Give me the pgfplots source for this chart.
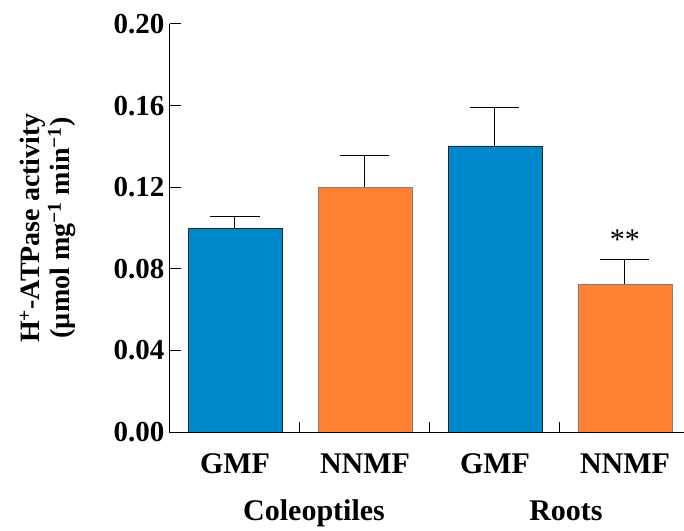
\documentclass[border=0pt]{standalone}
\usepackage{pgfplots}
\pgfplotsset{compat=1.18}
\usepackage{fontspec}
\setmainfont{Liberation Serif}
\definecolor{barblue}{RGB}{0,136,204}
\definecolor{barorange}{RGB}{255,128,51}
\begin{document}
\begin{tikzpicture}
\begin{axis}[
  scale only axis,
  width=514pt, height=408pt,
  xmin=-0.5, xmax=3.454,
  ymin=0, ymax=0.20,
  axis line style={draw=none},
  xtick pos=bottom, ytick pos=left,
  ytick={0,0.04,0.08,0.12,0.16,0.20},
  yticklabel style={/pgf/number format/fixed, /pgf/number format/fixed zerofill, /pgf/number format/precision=2, xshift=-2pt},
  /pgf/number format/assume math mode=true,
  yticklabel style={font=\bfseries\fontsize{29}{29}\selectfont},
  tick align=inside,
  major tick length=11pt,
  ytick style={black, line width=1pt},
  xtick={0,1,2,3},
  xticklabels={GMF,NNMF,GMF,NNMF},
  xtick style={draw=none},
  xticklabel style={font=\bfseries\fontsize{30}{30}\selectfont, yshift=-7pt},
  ylabel={H\textsuperscript{+}-ATPase activity\\(µmol mg\textsuperscript{−1} min\textsuperscript{−1})},
  ylabel style={at={(axis description cs:-0.2374,0.5)}, anchor=center, align=center, font=\bfseries\fontsize{28}{30}\selectfont},
  clip=false,
  ybar, bar width=0.723,
  error bars/y dir=plus, error bars/y explicit,
  error bars/error bar style={black, line width=1pt},
  error bars/error mark options={black, line width=1pt, mark size=24.5pt, rotate=90},
]
\addplot[ybar, bar shift=0pt, fill=barblue, draw=black!85, line width=0.8pt]
  coordinates {(0,0.100) +- (0,0.0054) (2,0.1402) +- (0,0.0191)};
\addplot[ybar, bar shift=0pt, fill=barorange, draw=gray, line width=0.8pt]
  coordinates {(1,0.120) +- (0,0.0153) (3,0.0725) +- (0,0.0123)};
\draw[black, line width=1pt] (rel axis cs:0,1) -- (rel axis cs:0,0) -- (rel axis cs:1,0);
\draw[black, line width=1pt] (axis cs:0.5,0) -- ([yshift=10pt]axis cs:0.5,0);
\draw[black, line width=1pt] (axis cs:1.5,0) -- ([yshift=10pt]axis cs:1.5,0);
\draw[black, line width=1pt] (axis cs:2.5,0) -- ([yshift=10pt]axis cs:2.5,0);
\node[font=\fontsize{30}{30}\selectfont] at (axis cs:3,0.0945) {**};
\node[anchor=base, font=\bfseries\fontsize{30}{30}\selectfont] at (axis cs:0.608,0) [yshift=-88pt] {Coleoptiles};
\node[anchor=base, font=\bfseries\fontsize{30}{30}\selectfont] at (axis cs:2.546,0) [yshift=-88pt] {Roots};
\end{axis}
\pgfresetboundingbox
\useasboundingbox (-170pt,-98pt) rectangle (514pt,432pt);
\end{tikzpicture}
\end{document}
